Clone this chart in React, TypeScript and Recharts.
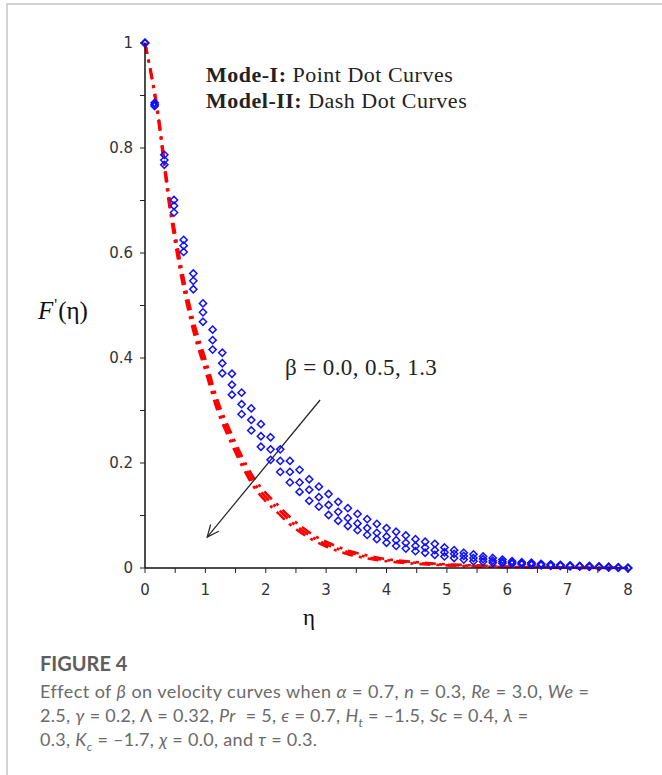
import React from 'react';
import { ComposedChart, Line, Scatter, XAxis, YAxis, ReferenceLine } from 'recharts';

// η positions of the Mode-I (point dot) markers
const etaBlue = [0, 0.16, 0.32, 0.48, 0.64, 0.8, 0.96, 1.12, 1.28, 1.44, 1.6, 1.76, 1.92, 2.08, 2.24, 2.4, 2.56, 2.72, 2.88, 3.04, 3.2, 3.36, 3.52, 3.68, 3.84, 4.0, 4.16, 4.32, 4.48, 4.64, 4.8, 4.96, 5.12, 5.28, 5.44, 5.6, 5.76, 5.92, 6.08, 6.24, 6.4, 6.56, 6.72, 6.88, 7.04, 7.2, 7.36, 7.52, 7.68, 7.84, 8.0];
// Mode-I, β = 0.0, 0.5, 1.3
const blueBeta00 = [1, 0.886, 0.787, 0.701, 0.625, 0.561, 0.504, 0.454, 0.41, 0.37, 0.334, 0.304, 0.274, 0.249, 0.226, 0.204, 0.187, 0.169, 0.155, 0.141, 0.126, 0.114, 0.103, 0.093, 0.084, 0.076, 0.069, 0.062, 0.055, 0.05, 0.046, 0.039, 0.034, 0.029, 0.026, 0.022, 0.019, 0.016, 0.013, 0.011, 0.01, 0.008, 0.007, 0.006, 0.005, 0.004, 0.004, 0.003, 0.002, 0.001, 0];
const blueBeta05 = [1, 0.883, 0.777, 0.69, 0.614, 0.547, 0.487, 0.434, 0.39, 0.349, 0.312, 0.282, 0.251, 0.226, 0.204, 0.183, 0.163, 0.149, 0.135, 0.12, 0.107, 0.095, 0.085, 0.076, 0.067, 0.06, 0.053, 0.048, 0.042, 0.039, 0.034, 0.03, 0.027, 0.023, 0.019, 0.017, 0.014, 0.012, 0.01, 0.009, 0.008, 0.007, 0.006, 0.005, 0.004, 0.003, 0.003, 0.002, 0.002, 0.001, 0];
const blueBeta13 = [1, 0.88, 0.768, 0.677, 0.602, 0.531, 0.469, 0.416, 0.371, 0.33, 0.293, 0.262, 0.231, 0.206, 0.183, 0.163, 0.145, 0.128, 0.117, 0.101, 0.09, 0.08, 0.072, 0.063, 0.055, 0.048, 0.042, 0.037, 0.032, 0.029, 0.025, 0.022, 0.019, 0.016, 0.013, 0.012, 0.01, 0.009, 0.008, 0.007, 0.006, 0.005, 0.004, 0.004, 0.003, 0.003, 0.002, 0.002, 0.001, 0.001, 0];

// η positions of the Model-II (dash dot) curves
const etaRed = [0, 0.2, 0.4, 0.6, 0.8, 1.0, 1.2, 1.4, 1.6, 1.8, 2.0, 2.2, 2.4, 2.6, 2.8, 3.0, 3.2, 3.4, 3.6, 3.8, 4.0, 4.5, 5.0, 5.5, 6.0, 6.5, 7.0, 7.5, 8.0];
const redBeta00 = [1, 0.88, 0.708, 0.575, 0.472, 0.398, 0.32, 0.264, 0.214, 0.172, 0.143, 0.12, 0.097, 0.078, 0.062, 0.05, 0.04, 0.032, 0.026, 0.021, 0.017, 0.011, 0.007, 0.005, 0.003, 0.002, 0.001, 0.001, 0];
const redBeta05 = [1, 0.875, 0.7, 0.565, 0.462, 0.388, 0.31, 0.255, 0.205, 0.163, 0.135, 0.113, 0.09, 0.072, 0.057, 0.045, 0.036, 0.029, 0.023, 0.018, 0.015, 0.01, 0.006, 0.004, 0.002, 0.002, 0.001, 0, 0];
const redBeta13 = [1, 0.87, 0.692, 0.555, 0.452, 0.376, 0.3, 0.245, 0.196, 0.155, 0.127, 0.105, 0.083, 0.066, 0.052, 0.041, 0.032, 0.025, 0.02, 0.016, 0.013, 0.008, 0.005, 0.003, 0.002, 0.001, 0, 0, 0];

const xTicks = [0, 0.5, 1, 1.5, 2, 2.5, 3, 3.5, 4, 4.5, 5, 5.5, 6, 6.5, 7, 7.5, 8];
const yTicks = [0, 0.1, 0.2, 0.3, 0.4, 0.5, 0.6, 0.7, 0.8, 0.9, 1];
const xTickLabels = ['0', '1', '2', '3', '4', '5', '6', '7', '8'];
const yTickLabels = ['0', '0.2', '0.4', '0.6', '0.8', '1'];

// arrow annotation (data coordinates)
const arrowFrom = { x: 2.9, y: 0.32 };
const arrowTo = { x: 1.03, y: 0.059 };

const toPoints = (xs: number[], ys: number[]) => xs.map((x, i) => ({ x, y: ys[i] }));

const BLUE = '#1010ff';
const RED = '#ff0000';
const TICK_FONT = "'DejaVu Sans', sans-serif";
const SERIF = "'Liberation Serif', 'Times New Roman', serif";

const Diamond = (props: any) => {
  const { cx, cy } = props;
  if (cx == null || cy == null) return null;
  const r = 3.6;
  return (
    <path
      d={`M${cx},${cy - r} L${cx + r},${cy} L${cx},${cy + r} L${cx - r},${cy} Z`}
      fill="none"
      stroke={BLUE}
      strokeWidth={1.5}
    />
  );
};

const XTick = (props: any) => {
  const { x, y, payload } = props;
  const v = payload.value;
  const isMajor = Math.abs(v - Math.round(v)) < 1e-6;
  const label = isMajor ? xTickLabels[Math.round(v)] : '';
  return (
    <g>
      <line x1={x} y1={y} x2={x} y2={y + 5} stroke="#222" strokeWidth={1} />
      {label !== '' && (
        <text x={x} y={y + 27} textAnchor="middle" fontSize={15} fontFamily={TICK_FONT} fill="#333">
          {label}
        </text>
      )}
    </g>
  );
};

const YTick = (props: any) => {
  const { x, y, payload } = props;
  const v = payload.value;
  const idx = Math.round(v * 5);
  const isMajor = Math.abs(v * 5 - idx) < 1e-6;
  const label = isMajor ? yTickLabels[idx] : '';
  return (
    <g>
      <line x1={x} y1={y} x2={x - 5} y2={y} stroke="#222" strokeWidth={1} />
      {label !== '' && (
        <text x={x - 12} y={y + 5} textAnchor="end" fontSize={15} fontFamily={TICK_FONT} fill="#333">
          {label}
        </text>
      )}
    </g>
  );
};

const ArrowShape = (p: any) => {
  const { x1, y1, x2, y2 } = p;
  if (x1 == null) return null;
  const ang = Math.atan2(y2 - y1, x2 - x1);
  const L = 13;
  const a = 0.42;
  const ax1 = x2 - L * Math.cos(ang - a);
  const ay1 = y2 - L * Math.sin(ang - a);
  const ax2 = x2 - L * Math.cos(ang + a);
  const ay2 = y2 - L * Math.sin(ang + a);
  return (
    <g>
      <line x1={x1} y1={y1} x2={x2} y2={y2} stroke="#222" strokeWidth={1.2} />
      <path d={`M${ax1},${ay1} L${x2},${y2} L${ax2},${ay2}`} fill="none" stroke="#222" strokeWidth={1.2} />
    </g>
  );
};

const redSeries = [redBeta00, redBeta05, redBeta13];
const blueSeries = [blueBeta00, blueBeta05, blueBeta13];

const captionStyle: React.CSSProperties = {
  position: 'absolute',
  left: 40,
  fontFamily: "Lato, 'Open Sans', sans-serif",
  fontSize: 18,
  letterSpacing: 0.3,
  color: '#6a6a6a',
  lineHeight: '24px',
  whiteSpace: 'nowrap',
};

export default function App() {
  return (
    <div style={{ position: 'absolute', left: 0, top: 0, width: 662, height: 775, background: '#fff', overflow: 'hidden' }}>
      {/* frame */}
      <div style={{ position: 'absolute', left: 6, top: 3, width: 656, height: 2, background: '#d2d2d2' }} />
      <div style={{ position: 'absolute', left: 6, top: 3, width: 2, height: 772, background: '#d2d2d2' }} />

      <div style={{ position: 'absolute', left: 0, top: 0 }}>
        <ComposedChart width={662} height={620} margin={{ top: 43, right: 34, bottom: 22, left: 85 }}>
          <XAxis
            type="number"
            dataKey="x"
            domain={[0, 8]}
            ticks={xTicks}
            interval={0}
            height={30}
            tickSize={0}
            tickMargin={0}
            tick={XTick}
            axisLine={{ stroke: '#111', strokeWidth: 1.5 }}
            allowDuplicatedCategory={false}
          />
          <YAxis
            type="number"
            dataKey="y"
            domain={[0, 1]}
            ticks={yTicks}
            interval={0}
            width={60}
            tickSize={0}
            tickMargin={0}
            tick={YTick}
            axisLine={{ stroke: '#111', strokeWidth: 1.5 }}
          />
          {redSeries.map((ys, i) => (
            <Line
              key={`r${i}`}
              data={toPoints(etaRed, ys)}
              dataKey="y"
              type="monotone"
              stroke={RED}
              strokeWidth={2.6}
              strokeDasharray="11 6 3 6"
              dot={false}
              activeDot={false}
              isAnimationActive={false}
            />
          ))}
          {blueSeries.map((ys, i) => (
            <Scatter
              key={`b${i}`}
              data={toPoints(etaBlue, ys)}
              dataKey="y"
              shape={Diamond}
              isAnimationActive={false}
            />
          ))}
          <ReferenceLine segment={[arrowFrom, arrowTo]} shape={ArrowShape} ifOverflow="visible" />
        </ComposedChart>
      </div>

      {/* annotations */}
      <div style={{ position: 'absolute', left: 206, top: 62, fontFamily: SERIF, fontSize: 22, color: '#222', whiteSpace: 'nowrap', lineHeight: '26px', letterSpacing: 0.5 }}>
        <div><b>Mode-I:</b> Point Dot Curves</div>
        <div><b>Model-II:</b> Dash Dot Curves</div>
      </div>
      <div style={{ position: 'absolute', left: 285, top: 355, fontFamily: SERIF, fontSize: 23, color: '#222', whiteSpace: 'nowrap', lineHeight: '26px', letterSpacing: 0.4 }}>
        β = 0.0, 0.5, 1.3
      </div>

      {/* axis titles */}
      <div style={{ position: 'absolute', left: 38, top: 295, fontFamily: SERIF, fontSize: 25, color: '#111', whiteSpace: 'nowrap', lineHeight: '32px' }}>
        <i>F</i><span style={{ fontSize: 16, position: 'relative', top: -9, marginLeft: 1, marginRight: 1 }}>'</span>(η)
      </div>
      <div style={{ position: 'absolute', left: 303, top: 604, fontFamily: SERIF, fontSize: 23, color: '#111', lineHeight: '28px' }}>
        η
      </div>

      {/* caption */}
      <div style={{ ...captionStyle, top: 651, fontWeight: 700, fontSize: 20, letterSpacing: 0, color: '#5e5e5e' }}>FIGURE 4</div>
      <div style={{ ...captionStyle, top: 679, letterSpacing: 0.45 }}>
        Effect of <i>β</i> on velocity curves when <i>α</i> = 0.7, <i>n</i> = 0.3, <i>Re</i> = 3.0, <i>We</i> =
      </div>
      <div style={{ ...captionStyle, top: 703 }}>
        2.5, <i>γ</i> = 0.2, Λ = 0.32, <i>Pr</i> &nbsp;= 5, <i>ϵ</i> = 0.7, <i>H</i><sub style={{ fontSize: 12 }}><i>t</i></sub> = –1.5, <i>Sc</i> = 0.4, <i>λ</i> =
      </div>
      <div style={{ ...captionStyle, top: 727 }}>
        0.3, <i>K</i><sub style={{ fontSize: 12 }}><i>c</i></sub> = –1.7, <i>χ</i> = 0.0, and <i>τ</i> = 0.3.
      </div>
    </div>
  );
}
